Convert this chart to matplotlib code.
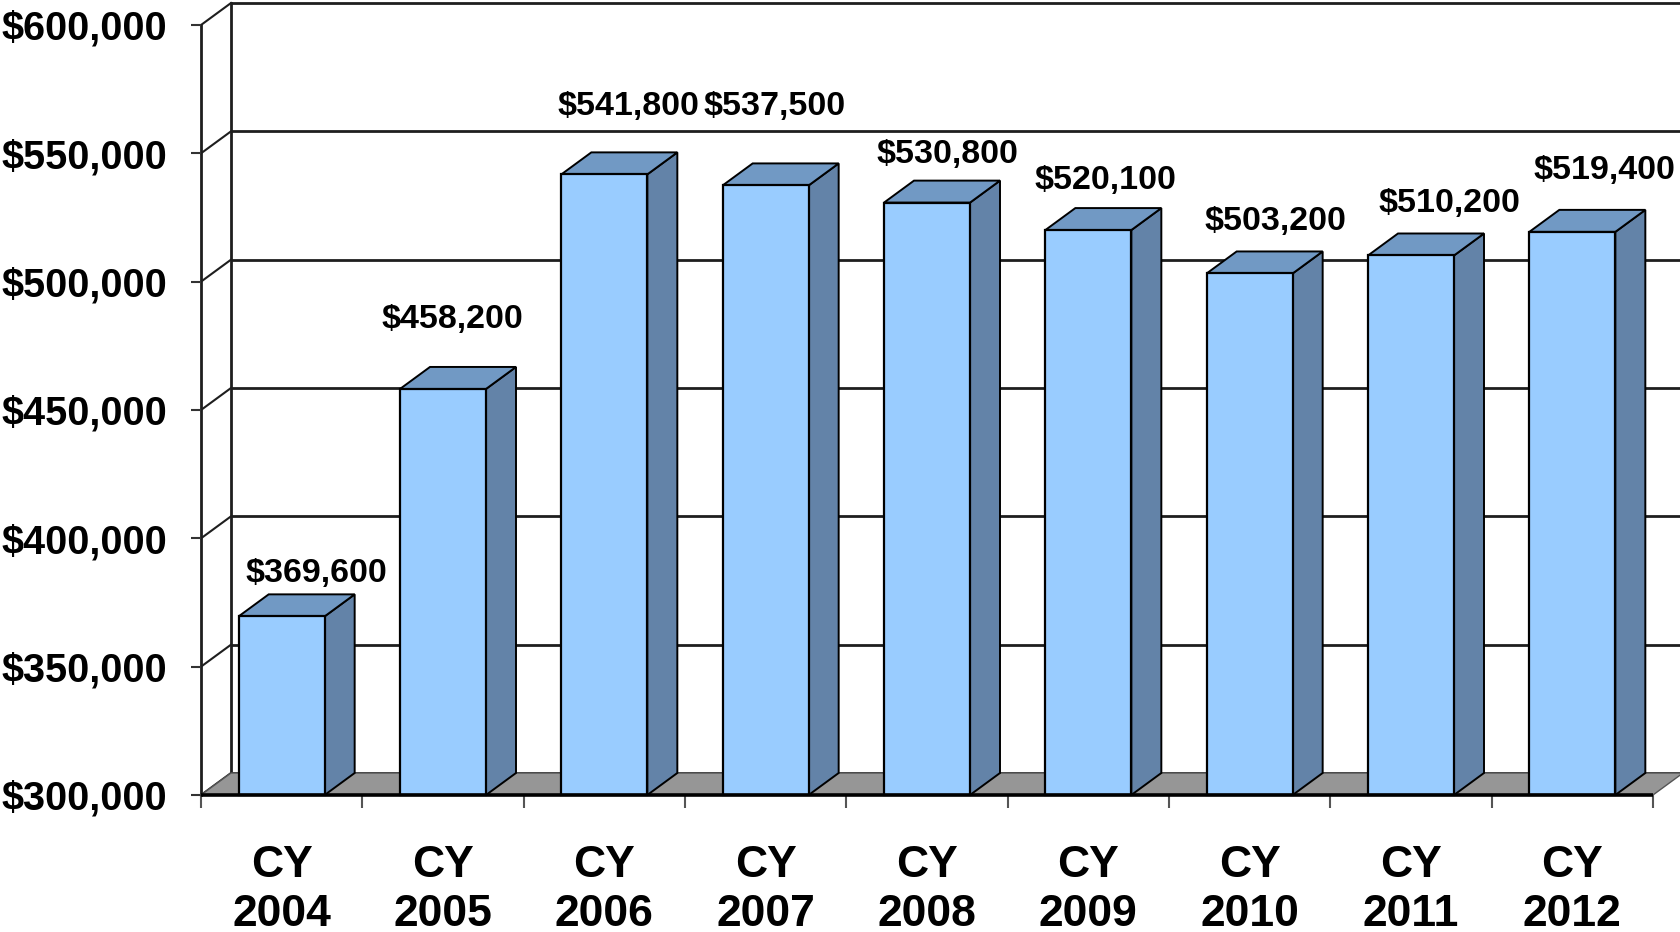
import matplotlib
matplotlib.use('Agg')
import matplotlib.pyplot as plt
import numpy as np
from matplotlib.patches import Polygon
from matplotlib.ticker import FuncFormatter

# ---------------- data ----------------
years = ['2004', '2005', '2006', '2007', '2008', '2009', '2010', '2011', '2012']
categories = ['CY\n' + y for y in years]
values = [369600, 458200, 541800, 537500, 530800, 520100, 503200, 510200, 519400]
y_ticks = [300000, 350000, 400000, 450000, 500000, 550000, 600000]

# label placement (pixels, relative to the front-top centre of each bar)
label_dx = [35, 9, 24, 9, 20, 17, 26, 38, 32]
label_dy = [34, 61, 59, 70, 40, 41, 43, 43, 53]

# ---------------- style ----------------
plt.rcParams['font.family'] = ['Liberation Sans', 'DejaVu Sans']
front_col = '#99CCFF'
side_col = '#6383A8'
top_col = '#7199C4'
floor_col = '#969696'
grid_col = '#1E1E1E'

W, H = 1680, 932
fig = plt.figure(figsize=(W / 100, H / 100), dpi=100)
x0, x1, y0, y1 = 201, 1653, 795, 25
ax = fig.add_axes([x0 / W, 1 - y0 / H, (x1 - x0) / W, (y0 - y1) / H])

n = len(values)
ymin, ymax = y_ticks[0], y_ticks[-1]
ax.set_xlim(-0.5, n - 0.5)
ax.set_ylim(ymin, ymax)

px_x = n / (x1 - x0)
px_y = (ymax - ymin) / (y0 - y1)
ddx = 30 * px_x
ddy = 22 * px_y
bw = 86 * px_x

L = -0.5
R = n - 0.5

# back wall gridlines
for v in y_ticks:
    ax.plot([L + ddx, R + ddx], [v + ddy, v + ddy], color=grid_col, lw=2.0,
            clip_on=False, zorder=1, solid_capstyle='butt')
    # side-wall diagonals
    ax.plot([L, L + ddx], [v, v + ddy], color=grid_col, lw=1.5, clip_on=False, zorder=1)
# walls' vertical edges
ax.plot([L, L], [ymin, ymax], color=grid_col, lw=2, clip_on=False, zorder=1)
ax.plot([L + ddx, L + ddx], [ymin + ddy, ymax + ddy], color=grid_col, lw=2, clip_on=False, zorder=1)
ax.plot([R + ddx, R + ddx], [ymin + ddy, ymax + ddy], color=grid_col, lw=2, clip_on=False, zorder=1)

# floor
floor = Polygon([(L, ymin), (R, ymin), (R + ddx, ymin + ddy), (L + ddx, ymin + ddy)],
                closed=True, facecolor=floor_col, edgecolor='#555555', lw=1.0,
                clip_on=False, zorder=2)
ax.add_patch(floor)

# bars
for i, v in enumerate(values):
    l, r = i - bw / 2, i + bw / 2
    side = Polygon([(r, ymin), (r + ddx, ymin + ddy), (r + ddx, v + ddy), (r, v)],
                   closed=True, facecolor=side_col, edgecolor='black', lw=1.4,
                   clip_on=False, zorder=3)
    top = Polygon([(l, v), (r, v), (r + ddx, v + ddy), (l + ddx, v + ddy)],
                  closed=True, facecolor=top_col, edgecolor='black', lw=1.4,
                  clip_on=False, zorder=3)
    front = Polygon([(l, ymin), (r, ymin), (r, v), (l, v)],
                    closed=True, facecolor=front_col, edgecolor='black', lw=1.6,
                    clip_on=False, zorder=4)
    for p in (side, top, front):
        ax.add_patch(p)
    ax.annotate(f'${v:,.0f}', xy=(i, v), xytext=(label_dx[i], label_dy[i]),
                textcoords='offset pixels', ha='center', va='baseline',
                fontsize=24.5, fontweight='bold', color='black',
                annotation_clip=False, zorder=6)

# front floor edge
ax.plot([L, R], [ymin, ymin], color='black', lw=2.6, clip_on=False, zorder=5,
        solid_capstyle='butt')

# axes / ticks
for s in ax.spines.values():
    s.set_visible(False)
ax.set_yticks(y_ticks)
ax.yaxis.set_major_formatter(FuncFormatter(lambda v, p: f'${v:,.0f}'))
ax.tick_params(axis='y', length=7.5, width=1.5, color='#333333', pad=17,
               labelsize=28.5)
for t in ax.get_yticklabels():
    t.set_fontweight('bold')

ax.set_xticks(range(n))
ax.set_xticklabels(categories, fontsize=32, fontweight='bold', linespacing=1.25)
ax.set_xticks(np.arange(-0.5, n), minor=True)
ax.tick_params(axis='x', which='major', length=0, pad=36)
ax.tick_params(axis='x', which='minor', length=9.5, width=1.5, color='#555555')

fig.savefig('out.png', dpi=100, facecolor='white')
